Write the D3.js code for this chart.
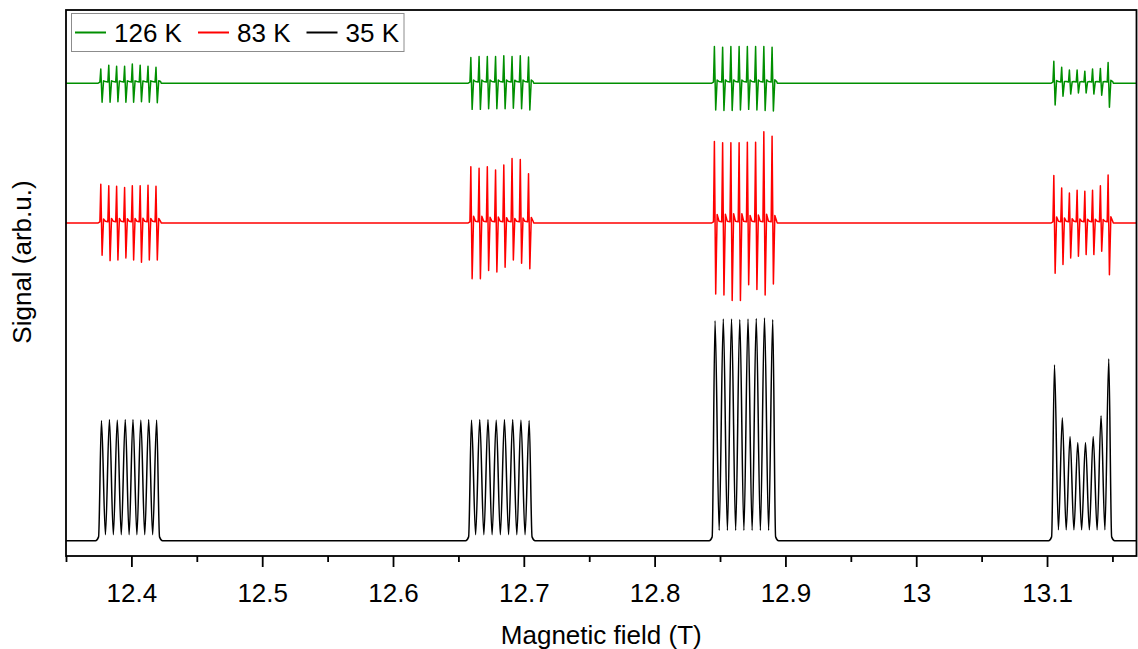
<!DOCTYPE html>
<html>
<head>
<meta charset="utf-8">
<script src="https://cdn.jsdelivr.net/npm/d3@7"></script>
<style>
  body { margin: 0; background: #fff; }
  text { font-family: "Liberation Sans", Arial, sans-serif; }
</style>
</head>
<body>
<div id="chart"></div>
<script>
// field positions (T) of the 8 lines in each of the 4 groups
var group_fields = [
    [12.3771, 12.3832, 12.3892, 12.3953, 12.4012, 12.4072, 12.4132, 12.4193],
    [12.6600, 12.6663, 12.6726, 12.6789, 12.6852, 12.6915, 12.6978, 12.7041],
    [12.8462, 12.8525, 12.8588, 12.8651, 12.8714, 12.8777, 12.8840, 12.8903],
    [13.1057, 13.1117, 13.1176, 13.1235, 13.1294, 13.1353, 13.1413, 13.1472]
];

// 35 K: absorption peak heights, and the level between peaks
var peaks_35K = [
    [22.0, 22.2, 22.1, 22.2, 22.2, 22.1, 22.2, 22.1],
    [22.1, 22.2, 22.2, 22.1, 22.2, 22.2, 22.1, 22.0],
    [40.3, 40.6, 40.6, 40.5, 40.6, 40.7, 40.8, 40.5],
    [32.2, 22.5, 19.1, 18.0, 18.0, 19.1, 22.9, 33.3]
];
var valleys_35K = [1.1, 1.1, 1.9, 2.0];

// 83 K: derivative signal, max and min of each line
var up_83K = [
    [7.1, 6.8, 6.7, 6.5, 6.8, 6.8, 6.9, 6.7],
    [10.3, 10.0, 10.3, 9.7, 10.6, 11.8, 11.6, 9.0],
    [14.9, 14.7, 14.7, 14.7, 14.8, 14.8, 16.7, 15.9],
    [8.7, 6.4, 5.5, 6.0, 5.8, 6.0, 6.8, 8.8]
];
var down_83K = [
    [-5.9, -6.9, -6.8, -6.4, -6.8, -7.2, -6.8, -6.8],
    [-10.2, -10.2, -8.7, -9.0, -8.1, -6.8, -7.4, -8.4],
    [-13.0, -13.2, -14.2, -14.2, -11.3, -12.2, -13.2, -11.2],
    [-9.2, -7.6, -6.4, -6.1, -5.8, -5.8, -5.2, -9.5]
];

// 126 K: derivative signal, max and min of each line
var up_126K = [
    [2.6, 3.3, 3.1, 3.1, 3.5, 3.3, 3.1, 2.9],
    [4.7, 4.9, 4.9, 4.9, 5.0, 4.9, 5.0, 4.8],
    [6.7, 6.6, 6.7, 6.7, 6.7, 6.7, 6.7, 6.6],
    [4.0, 2.9, 2.4, 2.4, 2.2, 2.6, 2.7, 3.8]
];
var down_126K = [
    [-3.5, -3.5, -3.4, -3.5, -3.5, -3.4, -3.5, -3.6],
    [-4.8, -4.8, -4.7, -4.7, -4.7, -4.6, -4.7, -4.9],
    [-4.9, -5.0, -5.0, -4.9, -4.8, -4.9, -5.0, -5.1],
    [-4.0, -2.4, -2.0, -1.8, -1.8, -2.0, -2.2, -4.4]
];

var series_names = ["126 K", "83 K", "35 K"];
var series_colors = ["#008f00", "#ff0000", "#000000"];
var series_offsets = [83.8, 58.2, 0];   // vertical stacking offsets (arb.u.)

var x_ticks = [12.4, 12.5, 12.6, 12.7, 12.8, 12.9, 13.0, 13.1];
var x_minor = [12.35, 12.45, 12.55, 12.65, 12.75, 12.85, 12.95, 13.05, 13.15];
var x_domain = [12.35, 13.1684];
var y_domain = [-2.8, 97.2];

var width = 1138, height = 649;
var margin = {left: 66, top: 10, right: 1.5, bottom: 93};

var svg = d3.select("#chart").append("svg")
    .attr("width", width)
    .attr("height", height);

var x = d3.scaleLinear().domain(x_domain).range([margin.left, width - margin.right]);
var y = d3.scaleLinear().domain(y_domain).range([height - margin.bottom, margin.top]);

// point lists for the line paths
function derivPoints(ups, downs) {
    var pts = [[x_domain[0], 0]];
    group_fields.forEach(function(fields, g) {
        pts.push([fields[0] - 0.0025, 0]);
        fields.forEach(function(c, i) {
            var a = Math.abs(downs[g][i]);
            pts.push([c - 0.0012, 0.2]);
            pts.push([c - 0.0005, ups[g][i]]);
            pts.push([c + 0.0005, downs[g][i]]);
            pts.push([c + 0.0016, 0.12 * a]);
            pts.push([c + 0.0030, 0.3]);
        });
        pts.push([fields[fields.length - 1] + 0.0035, 0]);
    });
    pts.push([x_domain[1], 0]);
    return pts;
}

function absPoints(heights, valleys) {
    var pts = [[x_domain[0], 0]];
    group_fields.forEach(function(fields, g) {
        var n = fields.length;
        pts.push([fields[0] - 0.0045, 0]);
        pts.push([fields[0] - 0.0022, 0.7]);
        fields.forEach(function(c, i) {
            pts.push([c, heights[g][i]]);
            if (i < n - 1) pts.push([(c + fields[i + 1]) / 2, valleys[g]]);
        });
        pts.push([fields[n - 1] + 0.0022, 0.7]);
        pts.push([fields[n - 1] + 0.0045, 0]);
    });
    pts.push([x_domain[1], 0]);
    return pts;
}

var series_points = [
    derivPoints(up_126K, down_126K),
    derivPoints(up_83K, down_83K),
    absPoints(peaks_35K, valleys_35K)
];

svg.append("clipPath").attr("id", "plotclip")
  .append("rect")
    .attr("x", margin.left)
    .attr("y", margin.top)
    .attr("width", width - margin.left - margin.right)
    .attr("height", height - margin.top - margin.bottom);

var plot = svg.append("g").attr("clip-path", "url(#plotclip)");

series_points.forEach(function(pts, s) {
    var line = d3.line()
        .x(function(d) { return x(d[0]); })
        .y(function(d) { return y(d[1] + series_offsets[s]); })
        .curve(s == 2 ? d3.curveMonotoneX : d3.curveLinear);
    plot.append("path")
        .attr("d", line(pts))
        .attr("fill", "none")
        .attr("stroke", series_colors[s])
        .attr("stroke-width", 1.5)
        .attr("stroke-linejoin", "round");
});

// x axis
var y0 = height - margin.bottom;
var xAxis = svg.append("g")
    .attr("transform", "translate(0," + y0 + ")")
    .call(d3.axisBottom(x).tickValues(x_ticks).tickSize(11).tickPadding(17)
        .tickFormat(function(d) { return d3.format("~g")(d); }));
xAxis.select(".domain").remove();
xAxis.selectAll("line").attr("stroke-width", 1.8);
xAxis.selectAll("text").attr("font-size", 26).attr("fill", "#000")
    .style("font-family", '"Liberation Sans", Arial, sans-serif');

var xMinor = svg.append("g")
    .attr("transform", "translate(0," + y0 + ")")
    .call(d3.axisBottom(x).tickValues(x_minor).tickSize(6).tickFormat(""));
xMinor.select(".domain").remove();
xMinor.selectAll("line").attr("stroke-width", 1.8);

// frame
svg.append("rect")
    .attr("x", margin.left)
    .attr("y", margin.top)
    .attr("width", width - margin.left - margin.right)
    .attr("height", height - margin.top - margin.bottom)
    .attr("fill", "none")
    .attr("stroke", "#000")
    .attr("stroke-width", 1.8);

// axis titles
svg.append("text")
    .attr("x", (margin.left + width - margin.right) / 2)
    .attr("y", 644)
    .attr("text-anchor", "middle")
    .attr("font-size", 26)
    .text("Magnetic field (T)");

svg.append("text")
    .attr("transform", "translate(31,262) rotate(-90)")
    .attr("text-anchor", "middle")
    .attr("font-size", 26)
    .text("Signal (arb.u.)");

// legend
var legend = svg.append("g");
legend.append("rect")
    .attr("x", 71.5).attr("y", 13.5)
    .attr("width", 332.5).attr("height", 38)
    .attr("fill", "#fff")
    .attr("stroke", "#8c8c8c")
    .attr("stroke-width", 1);

var legend_x = [75, 198, 306.5];
series_names.forEach(function(name, s) {
    legend.append("line")
        .attr("x1", legend_x[s]).attr("x2", legend_x[s] + 31)
        .attr("y1", 32.5).attr("y2", 32.5)
        .attr("stroke", series_colors[s])
        .attr("stroke-width", 2);
    legend.append("text")
        .attr("x", legend_x[s] + 39)
        .attr("y", 41.5)
        .attr("font-size", 26)
        .text(name);
});
</script>
</body>
</html>
